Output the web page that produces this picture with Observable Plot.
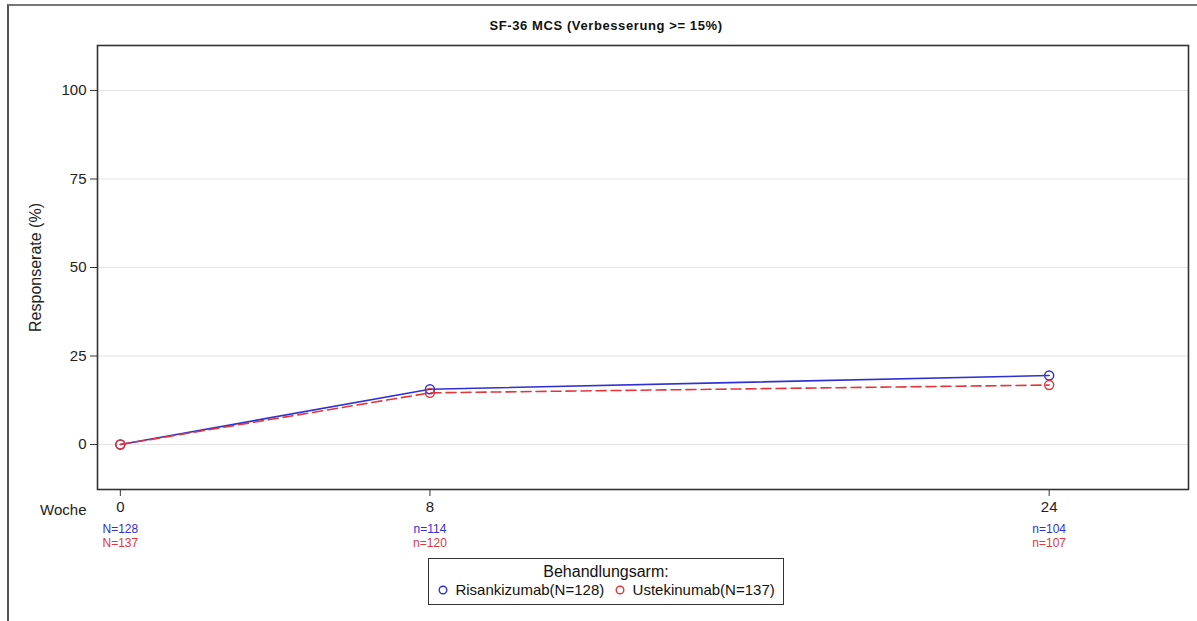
<!DOCTYPE html>
<html>
<head>
<meta charset="utf-8">
<script src="https://cdn.jsdelivr.net/npm/d3@7"></script>
<script src="https://cdn.jsdelivr.net/npm/@observablehq/plot@0.6"></script>
<style>
  html, body { margin: 0; padding: 0; background: #fff; }
  body { font-family: "Liberation Sans", Arial, sans-serif; }
  #wrap { position: relative; width: 1197px; height: 621px; overflow: hidden; }
  #outer { position: absolute; left: 7px; top: 4px; width: 1200px; height: 640px;
           border-left: 2px solid #555; border-top: 2px solid #777; box-sizing: border-box; }
  #title { position: absolute; top: 18px; left: 406px; width: 400px; text-align: center;
           font-weight: bold; font-size: 13px; letter-spacing: 0.6px; color: #111; }
  #legend { position: absolute; left: 428px; top: 558px; width: 356px; height: 47px;
            border: 1.5px solid #333; box-sizing: border-box; text-align: center; color: #111; }
  #legend .lt { font-size: 16px; margin-top: 4px; line-height: 18px; }
  #legend .row { font-size: 15px; line-height: 18px; white-space: nowrap; }
  #legend svg { vertical-align: -1px; }
  #chart { position: absolute; left: 0; top: 0; }
</style>
</head>
<body>
<div id="wrap">
  <div id="outer"></div>
  <div id="chart"></div>
  <div id="title"></div>
  <div id="legend"></div>
</div>
<script>
// ---- data ----
const title = "SF-36 MCS (Verbesserung >= 15%)";
const yLabel = "Responserate (%)";
const xLabel = "Woche";
const legendTitle = "Behandlungsarm:";
const weeks = [0, 8, 24];
const yTicks = [0, 25, 50, 75, 100];
const seriesNames = ["Risankizumab(N=128)", "Ustekinumab(N=137)"];
const seriesColors = ["#2f2fd6", "#e2363c"];
const risankizumab = [0, 15.6, 19.5];
const ustekinumab = [0, 14.6, 16.8];
const nRisankizumab = ["N=128", "n=114", "n=104"];
const nUstekinumab = ["N=137", "n=120", "n=107"];

// ---- tables built from arrays ----
const risData = weeks.map((w, i) => ({week: w, value: risankizumab[i], n: nRisankizumab[i]}));
const ustData = weeks.map((w, i) => ({week: w, value: ustekinumab[i], n: nUstekinumab[i]}));

const font = "Liberation Sans, Arial, sans-serif";

const chart = Plot.plot({
  width: 1197,
  height: 621,
  marginLeft: 97,
  marginRight: 9,
  marginTop: 45,
  marginBottom: 132,
  style: {fontFamily: font, color: "#222", background: "transparent", overflow: "visible"},
  x: {domain: [-0.59, 27.6]},
  y: {domain: [-12.7, 112.7]},
  marks: [
    Plot.ruleY(yTicks, {stroke: "#e3e3e3", strokeWidth: 1}),
    Plot.axisY({ticks: yTicks, tickSize: 7, tickPadding: 4, fontSize: 15, label: null, stroke: "#333"}),
    Plot.axisX({ticks: weeks, tickSize: 7, tickPadding: 5, fontSize: 15, label: null, stroke: "#333"}),
    Plot.text([yLabel], {frameAnchor: "left", dx: -62, rotate: -90, textAnchor: "middle", lineAnchor: "middle", fontSize: 16, fill: "#222"}),
    Plot.text([xLabel], {frameAnchor: "bottom-left", dx: -11, dy: 21, textAnchor: "end", lineAnchor: "middle", fontSize: 15, fill: "#222"}),
    Plot.text(risData, {x: "week", text: "n", frameAnchor: "bottom", dy: 40, lineAnchor: "middle", fontSize: 12, fill: seriesColors[0]}),
    Plot.text(ustData, {x: "week", text: "n", frameAnchor: "bottom", dy: 54, lineAnchor: "middle", fontSize: 12, fill: seriesColors[1]}),
    Plot.line(risData, {x: "week", y: "value", stroke: seriesColors[0], strokeWidth: 1.6}),
    Plot.dot(risData, {x: "week", y: "value", r: 4.5, stroke: seriesColors[0], strokeWidth: 1.4, fill: "none"}),
    Plot.line(ustData, {x: "week", y: "value", stroke: seriesColors[1], strokeWidth: 1.6, strokeDasharray: "10,5"}),
    Plot.dot(ustData, {x: "week", y: "value", r: 4.5, stroke: seriesColors[1], strokeWidth: 1.4, fill: "none"}),
    Plot.frame({stroke: "#333", strokeWidth: 1.6})
  ]
});
document.getElementById("chart").appendChild(chart);

document.getElementById("title").textContent = title;

const leg = document.getElementById("legend");
const lt = document.createElement("div");
lt.className = "lt";
lt.textContent = legendTitle;
leg.appendChild(lt);
const row = document.createElement("div");
row.className = "row";
seriesNames.forEach((name, i) => {
  const s = document.createElementNS("http://www.w3.org/2000/svg", "svg");
  s.setAttribute("width", "14"); s.setAttribute("height", "12");
  const c = document.createElementNS("http://www.w3.org/2000/svg", "circle");
  c.setAttribute("cx", "6"); c.setAttribute("cy", "6"); c.setAttribute("r", "3.8");
  c.setAttribute("fill", "none"); c.setAttribute("stroke", seriesColors[i]); c.setAttribute("stroke-width", "1.4");
  s.appendChild(c);
  row.appendChild(s);
  const t = document.createElement("span");
  t.textContent = " " + name + (i === 0 ? "  " : "");
  t.style.marginRight = i === 0 ? "6px" : "0";
  row.appendChild(t);
});
leg.appendChild(row);
</script>
</body>
</html>
